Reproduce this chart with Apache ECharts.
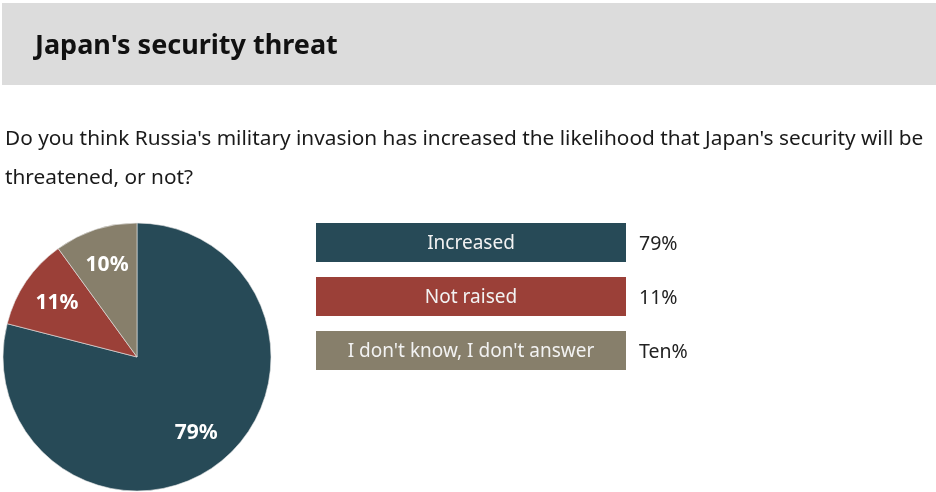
<!DOCTYPE html>
<html>
<head>
<meta charset="utf-8">
<script src="https://cdn.jsdelivr.net/npm/echarts@6/dist/echarts.min.js"></script>
<style>
  html, body { margin: 0; padding: 0; background: #fff; }
  #main { width: 936px; height: 492px; }
</style>
</head>
<body>
<div id="main"></div>
<script>
// data
var categories = ['Increased', 'Not raised', "I don't know, I don't answer"];
var values = [79, 11, 10];
var valueLabels = ['79%', '11%', 'Ten%'];
var colors = ['#274a57', '#9b4038', '#877f6b'];

var titleText = "Japan's security threat";
var questionLines = [
    "Do you think Russia's military invasion has increased the likelihood that Japan's security will be",
    'threatened, or not?'
];

var FONT = '"Noto Sans"';
var pieCenter = [137, 357];
var pieR = 134;

var pieData = categories.map(function (c, i) {
    return { name: c, value: values[i], itemStyle: { color: colors[i] } };
});

/*图例方块*/
var legendGraphics = [];
categories.forEach(function (c, i) {
    var top = 223 + i * 54;
    legendGraphics.push({
        type: 'rect',
        left: 316, top: top,
        shape: { width: 310, height: 39 },
        style: { fill: colors[i] },
        silent: true
    });
    legendGraphics.push({
        type: 'text',
        x: 471, y: top + 21,
        style: {
            text: c, fill: '#f2f2f2',
            font: '19px ' + FONT,
            textAlign: 'center', textVerticalAlign: 'middle'
        },
        silent: true
    });
    legendGraphics.push({
        type: 'text',
        x: 639, y: top + 21,
        style: {
            text: valueLabels[i], fill: '#222',
            font: '19.5px ' + FONT,
            textAlign: 'left', textVerticalAlign: 'middle'
        },
        silent: true
    });
});

var option = {
    animation: false,
    graphic: [
        {
            type: 'rect',
            left: 2, top: 3,
            shape: { width: 934, height: 82 },
            style: { fill: '#dcdcdc' },
            silent: true
        },
        {
            type: 'text',
            x: 35, y: 46,
            style: {
                text: titleText, fill: '#111',
                font: 'bold 27px ' + FONT,
                textVerticalAlign: 'middle'
            }
        },
        {
            type: 'text',
            x: 5, y: 139,
            style: {
                text: questionLines[0], fill: '#1a1a1a',
                font: '20.8px ' + FONT,
                textVerticalAlign: 'middle'
            }
        },
        {
            type: 'text',
            x: 5, y: 178,
            style: {
                text: questionLines[1], fill: '#1a1a1a',
                font: '20.8px ' + FONT,
                textVerticalAlign: 'middle'
            }
        }
    ].concat(legendGraphics),
    series: [
        {
            type: 'pie',
            center: pieCenter,
            radius: [0, pieR],
            startAngle: 90,
            clockwise: true,
            silent: true,
            label: { show: false },
            labelLine: { show: false },
            itemStyle: { borderColor: '#e8e8e8', borderWidth: 0.6 },
            data: pieData
        },
        {
            // transparent ring only used to place the percentage labels
            type: 'pie',
            center: pieCenter,
            radius: [pieR * 0.4, pieR],
            startAngle: 90,
            clockwise: true,
            silent: true,
            itemStyle: { color: 'transparent', borderWidth: 0 },
            label: {
                show: true,
                position: 'inside',
                color: '#fff',
                fontFamily: FONT,
                fontWeight: 'bold',
                fontSize: 21,
                formatter: '{c}%'
            },
            labelLine: { show: false },
            data: values.map(function (v, i) { return { name: categories[i], value: v }; })
        }
    ]
};

var chart = echarts.init(document.getElementById('main'));
chart.setOption(option);
</script>
</body>
</html>
